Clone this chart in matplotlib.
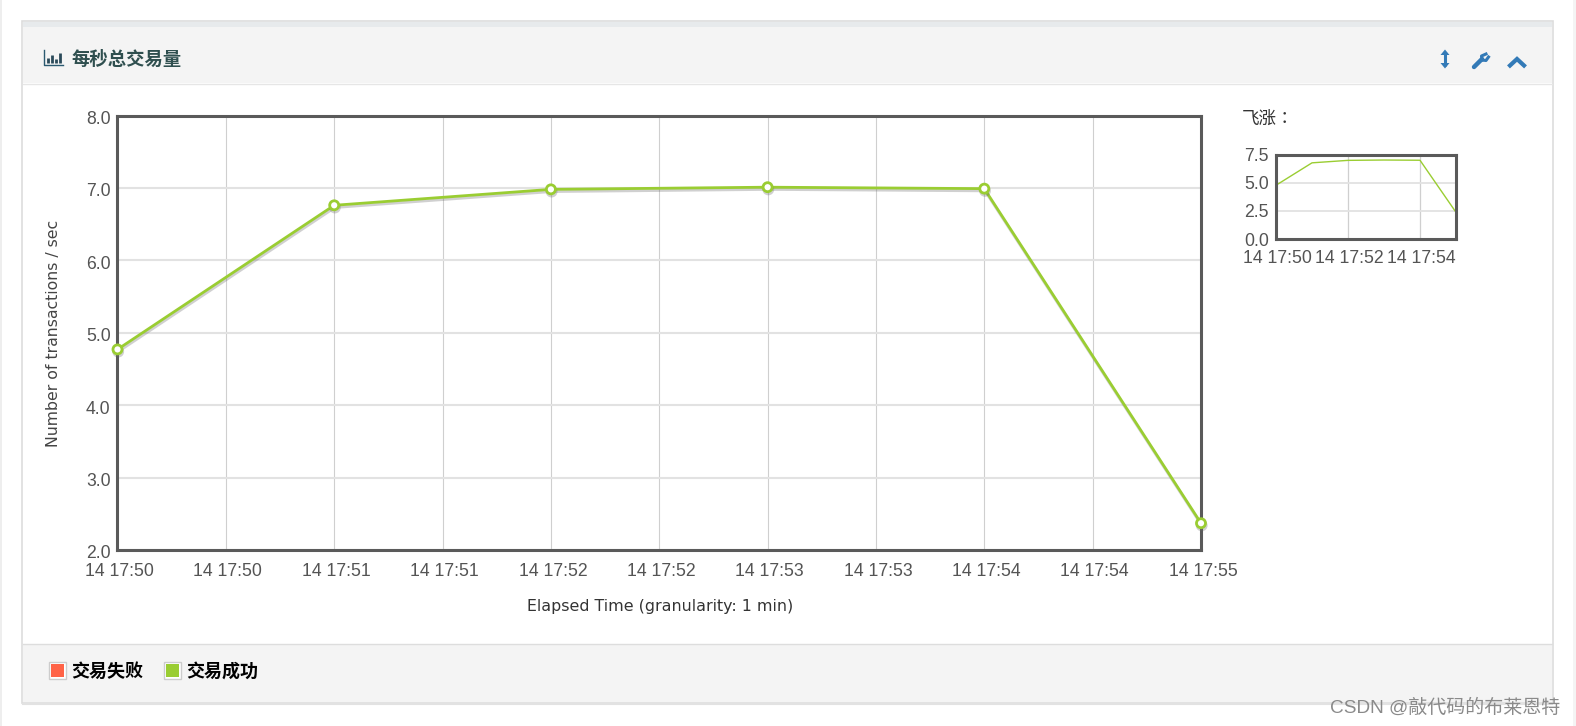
import matplotlib
matplotlib.use("Agg")
import matplotlib.pyplot as plt
import matplotlib.patheffects as pe
from matplotlib.patches import Rectangle, Polygon
from matplotlib.transforms import ScaledTranslation

plt.rcParams["font.family"] = ["Liberation Sans", "Noto Sans CJK SC", "DejaVu Sans"]

W, H = 1576, 726

minutes = [0, 1, 2, 3, 4, 5]
tps = [4.77, 6.76, 6.98, 7.01, 6.99, 2.37]

main_ticks = [0, 0.5, 1, 1.5, 2, 2.5, 3, 3.5, 4, 4.5, 5]
main_labels = ["14 17:50", "14 17:50", "14 17:51", "14 17:51", "14 17:52", "14 17:52",
               "14 17:53", "14 17:53", "14 17:54", "14 17:54", "14 17:55"]
main_yticks = [2, 3, 4, 5, 6, 7, 8]

mini_ticks = [0, 2, 4]
mini_labels = ["14 17:50", "14 17:52", "14 17:54"]
mini_yticks = [0, 2.5, 5, 7.5]

legend_names = ["交易失败", "交易成功"]
legend_colors = ["#ff6347", "#9acd32"]

TEXT = "#545454"
FRAME = "#5a5a5a"
GREEN = "#9acd32"
BLUE = "#337ab7"


def axes_px(fig, x0, y0, x1, y1):
    return fig.add_axes([x0 / W, 1 - y1 / H, (x1 - x0) / W, (y1 - y0) / H])


def style_chart(ax, size, lw):
    for s in ax.spines.values():
        s.set_color(FRAME)
        s.set_linewidth(lw)
    ax.tick_params(length=0, labelsize=size, labelcolor=TEXT)


def nudge(labels, dx, dy):
    for lab in labels:
        lab.set_transform(lab.get_transform() + ScaledTranslation(dx / 100, dy / 100, fig.dpi_scale_trans))


fig = plt.figure(figsize=(W / 100, H / 100), dpi=100, facecolor="white")

# page background, panel, header and footer are drawn in pixel coords
bg = fig.add_axes([0, 0, 1, 1])
bg.set_xlim(0, W)
bg.set_ylim(H, 0)
bg.axis("off")
bg.add_patch(Rectangle((0, 0), 2, H, fc="#eeeeee", ec="none"))
bg.add_patch(Rectangle((W - 3, 0), 3, H, fc="#f4f4f4", ec="none"))
bg.add_patch(Rectangle((22, 21), 1531, 682, fc="white", ec="#dddddd", lw=1.2))
bg.add_patch(Rectangle((23, 22), 1529, 5, fc="#e7eaec", ec="none"))
bg.add_patch(Rectangle((23, 27), 1529, 56, fc="#f4f4f4", ec="none"))
bg.plot([23, 1552], [83.5, 83.5], color="#e6e6e6", lw=1)
bg.add_patch(Rectangle((23, 644), 1529, 58, fc="#f4f4f4", ec="none"))
bg.plot([23, 1552], [644, 644], color="#dddddd", lw=1)
bg.plot([23, 1552], [703.5, 703.5], color="#e2e2e2", lw=1.5)

# header icon and title
bg.plot([44, 44, 63.5], [50, 64.5, 64.5], color="#2a5a70", lw=1)
for bx, top in zip([48, 52, 56, 60], [58, 55, 59, 53]):
    bg.plot([bx, bx], [top, 63], color="#2a4a5a", lw=2, solid_capstyle="butt")
bg.text(71, 59.5, "每秒总交易量", fontsize=13.2, fontweight="bold", color="#2f4f4f",
        va="center", ha="left")

# header tools
bg.plot([1445, 1445], [52, 66], color=BLUE, lw=2.2, solid_capstyle="butt")
bg.add_patch(Polygon([[1445, 49.5], [1440.5, 55], [1449.5, 55]], fc=BLUE, ec="none"))
bg.add_patch(Polygon([[1445, 68.5], [1440.5, 63], [1449.5, 63]], fc=BLUE, ec="none"))
bg.plot([1474, 1482], [67, 59], color=BLUE, lw=3.2, solid_capstyle="round")
bg.plot([1482, 1481.5, 1486], [60, 56, 54], color=BLUE, lw=2.2)
bg.plot([1482, 1486, 1488.5], [60, 60.5, 57], color=BLUE, lw=2.2)
bg.plot([1510, 1517, 1524], [65.5, 59, 65.5], color=BLUE, lw=3, solid_joinstyle="miter")

# main chart
ax = axes_px(fig, 117.5, 115.5, 1201, 550)
ax.plot(minutes, tps, color=GREEN, lw=2, marker="o", ms=6.5, mfc="white", mew=2,
        mec=GREEN, clip_on=False, zorder=5,
        path_effects=[pe.SimpleLineShadow(offset=(0.5, -1.6), shadow_color="#666666", alpha=0.3),
                      pe.Normal()])
ax.set_xlim(main_ticks[0], main_ticks[-1])
ax.set_ylim(main_yticks[0], main_yticks[-1])
ax.set_xticks(main_ticks)
ax.set_xticklabels(main_labels)
ax.set_yticks(main_yticks)
ax.set_yticklabels([f"{v:.1f}" for v in main_yticks])
ax.grid(True, axis="x", color="#cfcfcf", lw=0.8)
ax.grid(True, axis="y", color="#e2e2e2", lw=1.5)
ax.set_axisbelow(True)
style_chart(ax, 12.7, 2.2)
ax.tick_params(axis="x", pad=9)
ax.tick_params(axis="y", pad=5)
nudge(ax.get_xticklabels(), 2, 0)
nudge(ax.get_yticklabels(), 0, -2)

bg.text(660, 606.5, "Elapsed Time (granularity: 1 min)", fontsize=11.4, color="#333333",
        family="DejaVu Sans", ha="center", va="center")
bg.text(54, 333, "Number of transactions / sec", fontsize=11.3, color="#444444",
        family="DejaVu Sans", rotation=90, ha="center", va="center")

# overview chart
bg.text(1242, 119, "飞涨：", fontsize=12.6, color="#333333", ha="left", va="center",
        family=["Noto Sans CJK TC", "DejaVu Sans"], fontweight="light")
ov = axes_px(fig, 1276, 154.5, 1456, 239)
ov.plot(minutes, tps, color=GREEN, lw=1)
ov.set_xlim(0, 5)
ov.set_ylim(mini_yticks[0], mini_yticks[-1])
ov.set_xticks(mini_ticks)
ov.set_xticklabels(mini_labels)
ov.set_yticks(mini_yticks)
ov.set_yticklabels([f"{v:.1f}" for v in mini_yticks])
ov.grid(True, axis="x", color="#cfcfcf", lw=0.9)
ov.grid(True, axis="y", color="#e2e2e2", lw=1.3)
ov.set_axisbelow(True)
style_chart(ov, 12.7, 2.2)
ov.tick_params(axis="x", pad=8)
ov.tick_params(axis="y", pad=5)
nudge(ov.get_xticklabels(), 1, 0)

# legend
for lx, name, col in zip([49, 164], legend_names, legend_colors):
    bg.add_patch(Rectangle((lx, 662), 17, 17, fc="white", ec="#cccccc", lw=1))
    bg.add_patch(Rectangle((lx + 2, 664), 13, 13, fc=col, ec="none"))
    bg.text(lx + 22, 672, name, fontsize=13, fontweight="bold", color="black",
            va="center", ha="left")

# watermark
bg.text(1560, 708, "CSDN @敲代码的布莱恩特", fontsize=13.7, color="#8a8a8a",
        ha="right", va="center", zorder=10)

fig.savefig("out.png", dpi=100)
